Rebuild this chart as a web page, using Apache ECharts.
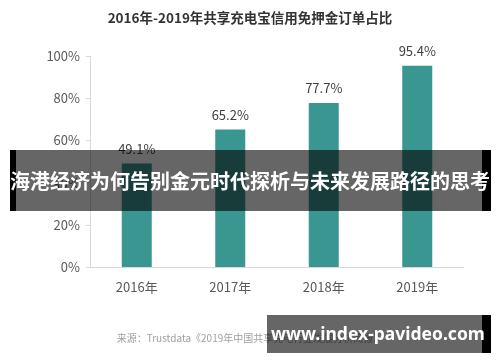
<!DOCTYPE html>
<html><head><meta charset="utf-8">
<script src="https://cdn.jsdelivr.net/npm/echarts@6/dist/echarts.min.js"></script>
<style>html,body{margin:0;padding:0;background:#fff}#c{width:500px;height:362px}</style>
</head><body><div id="c"></div>
<script>
const categories = ['2016年','2017年','2018年','2019年'];
const values = [49.1, 65.2, 77.7, 95.4];
const yTicks = [0, 20, 40, 60, 80, 100];
const titleText = '2016年-2019年共享充电宝信用免押金订单占比';
const sourceText = '来源：Trustdata《2019年中国共享充电行业发展分析简报》';
const bannerText = '海港经济为何告别金元时代探析与未来发展路径的思考';
const watermarkText = 'www.index-pavideo.com';

const chart = echarts.init(document.getElementById('c'), null, {renderer:'canvas'});
chart.setOption({
  animation:false,
  title:{text:titleText,left:'center',top:6,textStyle:{fontSize:13.5,fontWeight:'bold',color:'#333',fontFamily:'Noto Sans CJK SC'}},
  grid:{left:90,right:36,top:56,bottom:95},
  xAxis:{type:'category',data:categories,
    axisLine:{lineStyle:{color:'#d9d9d9'}},axisTick:{show:false},
    axisLabel:{fontSize:13,color:'#595959',margin:14,fontFamily:'Noto Sans CJK SC'}},
  yAxis:{type:'value',min:yTicks[0],max:yTicks[yTicks.length-1],interval:20,
    axisLine:{show:true,lineStyle:{color:'#d9d9d9'}},
    axisTick:{show:true,length:4,lineStyle:{color:'#d9d9d9'}},
    splitLine:{show:false},
    axisLabel:{fontSize:13,color:'#595959',margin:10,formatter:'{value}%',fontFamily:'Noto Sans CJK SC'}},
  series:[{type:'bar',data:values,barWidth:30,itemStyle:{color:'#3a9690'},
    label:{show:true,position:'top',distance:8,formatter:'{c}%',fontSize:13,color:'#404040',fontFamily:'Noto Sans CJK SC'}}],
  graphic:[
    {type:'text',left:'center',top:333,z:1,style:{text:sourceText,fontSize:10,fill:'#a0a0a0',fontFamily:'Noto Sans CJK SC'}},
    {type:'rect',z:100,shape:{x:10,y:150,width:481,height:61},style:{fill:'rgba(0,0,0,0.6)'}},
    {type:'rect',z:101,shape:{x:10,y:150,width:6,height:61},style:{fill:'#000'}},
    {type:'rect',z:101,shape:{x:482,y:150,width:9,height:61},style:{fill:'#000'}},
    {type:'text',z:102,x:250,y:181,style:{text:bannerText,fontSize:20,fontWeight:'bold',fill:'#fff',align:'center',verticalAlign:'middle',fontFamily:'Noto Sans CJK SC'}},
    {type:'rect',z:100,shape:{x:267,y:315,width:224,height:38},style:{fill:'rgba(0,0,0,0.6)'}},
    {type:'rect',z:101,shape:{x:482,y:315,width:9,height:38},style:{fill:'#000'}},
    {type:'text',z:102,x:378,y:335,style:{text:watermarkText,fontSize:17.5,fontWeight:'bold',fill:'#fff',align:'center',verticalAlign:'middle',fontFamily:'Noto Sans'}}
  ]
});
</script></body></html>
